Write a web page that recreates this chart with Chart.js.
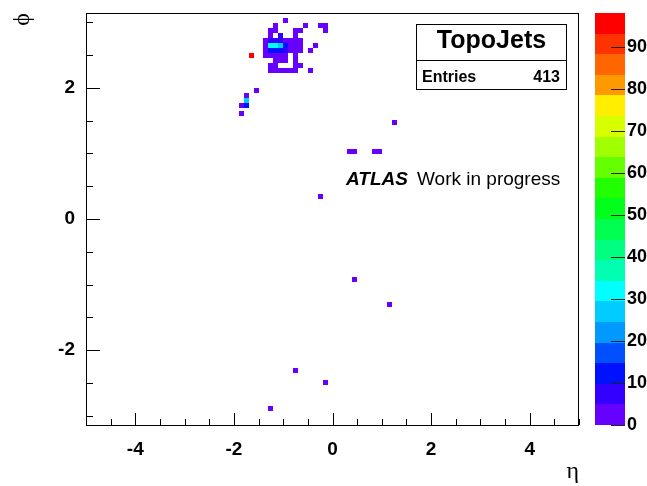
<!DOCTYPE html>
<html>
<head>
<meta charset="utf-8">
<script src="https://cdn.jsdelivr.net/npm/chart.js@4.4.0/dist/chart.umd.min.js"></script>
<style>
  html, body { margin: 0; padding: 0; background: #fff; }
  #wrap { position: relative; width: 647px; height: 486px; }
</style>
</head>
<body>
<div id="wrap"><canvas id="etaPhiChart" width="647" height="486"></canvas></div>
<script>
// filled bins of the TopoJets eta-phi map (bin centre eta, bin centre phi, content)
const etaVals = [
    -0.95,
    -1.15, -0.55, -0.25, -0.15,
    -1.25, -1.15, -0.75, -0.65, -0.15,
    -1.25, -1.05, -0.75,
    -1.35, -1.25, -1.15, -1.05, -0.95, -0.85, -0.75, -0.65,
    -1.35, -1.25, -1.15, -1.05, -0.95, -0.85, -0.75, -0.65, -0.35,
    -1.35, -1.25, -1.15, -1.05, -0.95, -0.85, -0.75, -0.65, -0.45,
    -1.65, -1.35, -1.25, -1.15, -1.05, -0.95, -0.75,
    -1.15, -1.05, -0.95, -0.75,
    -1.25, -1.15, -0.75, -0.65,
    -1.25, -1.15, -1.05, -0.95, -0.85, -0.75, -0.45,
    -1.55, -1.75, -1.75, -1.75, -1.85, -1.85,
    1.25, 0.35, 0.45, 0.85, 0.95, -0.25, 0.45, 1.15, -0.75, -0.15, -1.25
];
const phiVals = [
    3.026,
    2.950, 2.950, 2.950, 2.950,
    2.873, 2.873, 2.873, 2.873, 2.873,
    2.796, 2.796, 2.796,
    2.720, 2.720, 2.720, 2.720, 2.720, 2.720, 2.720, 2.720,
    2.643, 2.643, 2.643, 2.643, 2.643, 2.643, 2.643, 2.643, 2.643,
    2.567, 2.567, 2.567, 2.567, 2.567, 2.567, 2.567, 2.567, 2.567,
    2.490, 2.490, 2.490, 2.490, 2.490, 2.490, 2.490,
    2.413, 2.413, 2.413, 2.413,
    2.337, 2.337, 2.337, 2.337,
    2.260, 2.260, 2.260, 2.260, 2.260, 2.260, 2.260,
    1.954, 1.877, 1.801, 1.724, 1.724, 1.610,
    1.477, 1.035, 1.035, 1.035, 1.035, 0.340, -0.924, -1.300, -2.317, -2.487, -2.886
];
const binCounts = [
    2,
    1, 1, 2, 1,
    1, 2, 2, 1, 1,
    2, 6, 3,
    3, 6, 6, 5, 3, 2, 3, 2,
    4, 30, 32, 25, 12, 3, 2, 2, 1,
    3, 12, 13, 11, 6, 3, 2, 2, 1,
    96, 2, 3, 4, 3, 2, 2,
    2, 3, 2, 1,
    1, 1, 2, 1,
    2, 3, 2, 1, 1, 2, 1,
    2, 2, 26, 10, 3, 2,
    1, 1, 1, 1, 1, 1, 1, 1, 2, 1, 1
];

const etaTicks = [-4, -2, 0, 2, 4];
const phiTicks = [-2, 0, 2];
const zTicks = [0, 10, 20, 30, 40, 50, 60, 70, 80, 90];
const zMax = 98;
const histName = 'TopoJets';
const entries = 413;

// ROOT style rainbow, 20 contour levels from bottom to top
const paletteColors = [
    '#6600ff', '#3300ff', '#0011ff', '#0050ff', '#0099ff',
    '#00ccff', '#00ffff', '#00ffb0', '#00ff80', '#00ff50',
    '#00ff1a', '#22ff00', '#66ff00', '#a0ff00', '#d8ff00',
    '#ffee00', '#ff9900', '#ff6600', '#ff3300', '#ff0000'
];

const ETA_BIN = 0.1;
const PHI_BIN = 2 * Math.PI / 82;
const SANS = '"Liberation Sans", Arial, Helvetica, sans-serif';
const SERIF = '"Liberation Serif", "DejaVu Serif", serif';

function colourFor(v) {
    const idx = Math.min(paletteColors.length - 1, Math.floor(v / zMax * paletteColors.length));
    return paletteColors[idx];
}

const colzPlugin = {
    id: 'colz',
    beforeDatasetsDraw(chart) {
        const {ctx, scales: {x, y}} = chart;
        ctx.save();
        etaVals.forEach((eta, i) => {
            const v = binCounts[i];
            if (v <= 0) return;
            const x0 = Math.round(x.getPixelForValue(eta - ETA_BIN / 2));
            const x1 = Math.round(x.getPixelForValue(eta + ETA_BIN / 2));
            const y0 = Math.round(y.getPixelForValue(phiVals[i] + PHI_BIN / 2));
            const y1 = Math.round(y.getPixelForValue(phiVals[i] - PHI_BIN / 2));
            ctx.fillStyle = colourFor(v);
            ctx.fillRect(x0, y0, x1 - x0, y1 - y0);
        });
        ctx.restore();
    },
    afterDatasetsDraw(chart) {
        const {ctx, chartArea: ca, scales: {x, y, z}} = chart;
        ctx.save();

        // frame
        ctx.strokeStyle = '#000';
        ctx.lineWidth = 1;
        ctx.strokeRect(Math.round(ca.left) + 0.5, Math.round(ca.top) + 0.5,
            Math.round(ca.right - ca.left) - 1, Math.round(ca.bottom - ca.top));

        // ticks drawn inside the frame, every 0.5
        ctx.beginPath();
        for (let v = -5; v <= 5.001; v += 0.5) {
            const px = Math.round(x.getPixelForValue(v)) + 0.5;
            const len = Math.abs(v % 2) < 1e-6 ? 12 : 6;
            ctx.moveTo(px, ca.bottom);
            ctx.lineTo(px, ca.bottom - len);
        }
        for (let v = -3; v <= 3.001; v += 0.5) {
            const py = Math.round(y.getPixelForValue(v)) + 0.5;
            const len = Math.abs(v % 2) < 1e-6 ? 14 : 7;
            ctx.moveTo(ca.left, py);
            ctx.lineTo(ca.left + len, py);
        }
        ctx.stroke();

        // colour palette
        const boxL = z.left + 16;
        const boxR = z.left + 46;
        paletteColors.forEach((c, i) => {
            const yb = z.getPixelForValue(i * zMax / paletteColors.length);
            const yt = z.getPixelForValue((i + 1) * zMax / paletteColors.length);
            ctx.fillStyle = c;
            ctx.fillRect(boxL, Math.round(yt), boxR - boxL, Math.round(yb) - Math.round(yt));
        });
        ctx.beginPath();
        zTicks.forEach(v => {
            const py = Math.round(z.getPixelForValue(v)) + 0.5;
            ctx.moveTo(boxR - 14, py);
            ctx.lineTo(boxR, py);
        });
        ctx.strokeStyle = '#222';
        ctx.stroke();

        // stats box
        ctx.fillStyle = '#fff';
        ctx.fillRect(416, 24, 150, 65);
        ctx.strokeStyle = '#000';
        ctx.strokeRect(416.5, 24.5, 150, 65);
        ctx.beginPath();
        ctx.moveTo(416.5, 60.5);
        ctx.lineTo(566.5, 60.5);
        ctx.stroke();
        ctx.fillStyle = '#000';
        ctx.textBaseline = 'alphabetic';
        ctx.font = 'bold 25px ' + SANS;
        ctx.textAlign = 'center';
        ctx.fillText(histName, 491.5, 48);
        ctx.font = 'bold 16px ' + SANS;
        ctx.textAlign = 'left';
        ctx.fillText('Entries', 422, 82);
        ctx.textAlign = 'right';
        ctx.fillText(String(entries), 560, 82);

        // experiment label
        ctx.textAlign = 'left';
        ctx.font = 'italic bold 19px ' + SANS;
        ctx.fillText('ATLAS', 346, 185);
        ctx.font = '19px ' + SANS;
        ctx.fillText('Work in progress', 417, 185);

        ctx.restore();
    }
};

const tickFont = {family: SANS, size: 19, weight: 'bold'};
const zFont = {family: SANS, size: 18, weight: 'bold'};

const ctx = document.getElementById('etaPhiChart').getContext('2d');
const etaPhiChart = new Chart(ctx, {
    type: 'scatter',
    data: {
        datasets: [{
            label: histName,
            data: etaVals.map((e, i) => ({x: e, y: phiVals[i], v: binCounts[i]})),
            pointRadius: 0,
            pointHoverRadius: 0
        }]
    },
    options: {
        responsive: false,
        animation: false,
        events: [],
        layout: {padding: {top: 13, left: 0, right: 0, bottom: 0}},
        plugins: {
            legend: {display: false},
            tooltip: {enabled: false}
        },
        scales: {
            x: {
                type: 'linear',
                position: 'bottom',
                min: -5,
                max: 5,
                afterBuildTicks: ax => { ax.ticks = etaTicks.map(v => ({value: v})); },
                afterFit: ax => { ax.height = 61; },
                grid: {display: false, drawTicks: true, tickLength: 12},
                border: {display: false},
                ticks: {padding: 1, color: '#000', font: tickFont, maxRotation: 0},
                title: {
                    display: true,
                    text: 'η',
                    align: 'end',
                    color: '#000',
                    padding: {top: 0, bottom: 0},
                    font: {family: SERIF, size: 24}
                }
            },
            y: {
                type: 'linear',
                position: 'left',
                min: -Math.PI,
                max: Math.PI,
                afterBuildTicks: ax => { ax.ticks = phiTicks.map(v => ({value: v})); },
                afterFit: ax => { ax.width = 86; },
                grid: {display: false, drawTicks: true, tickLength: 10},
                border: {display: false},
                ticks: {padding: 1, color: '#000', font: tickFont},
                title: {
                    display: true,
                    text: 'ϕ',
                    align: 'end',
                    color: '#000',
                    padding: {top: 8, bottom: 0},
                    font: {family: SERIF, size: 24}
                }
            },
            z: {
                type: 'linear',
                position: 'right',
                min: 0,
                max: zMax,
                afterBuildTicks: ax => { ax.ticks = zTicks.map(v => ({value: v})); },
                afterFit: ax => { ax.width = 68; },
                grid: {display: false, drawTicks: true, tickLength: 47},
                border: {display: false},
                ticks: {padding: 1, color: '#000', font: zFont}
            }
        }
    },
    plugins: [colzPlugin]
});
</script>
</body>
</html>
